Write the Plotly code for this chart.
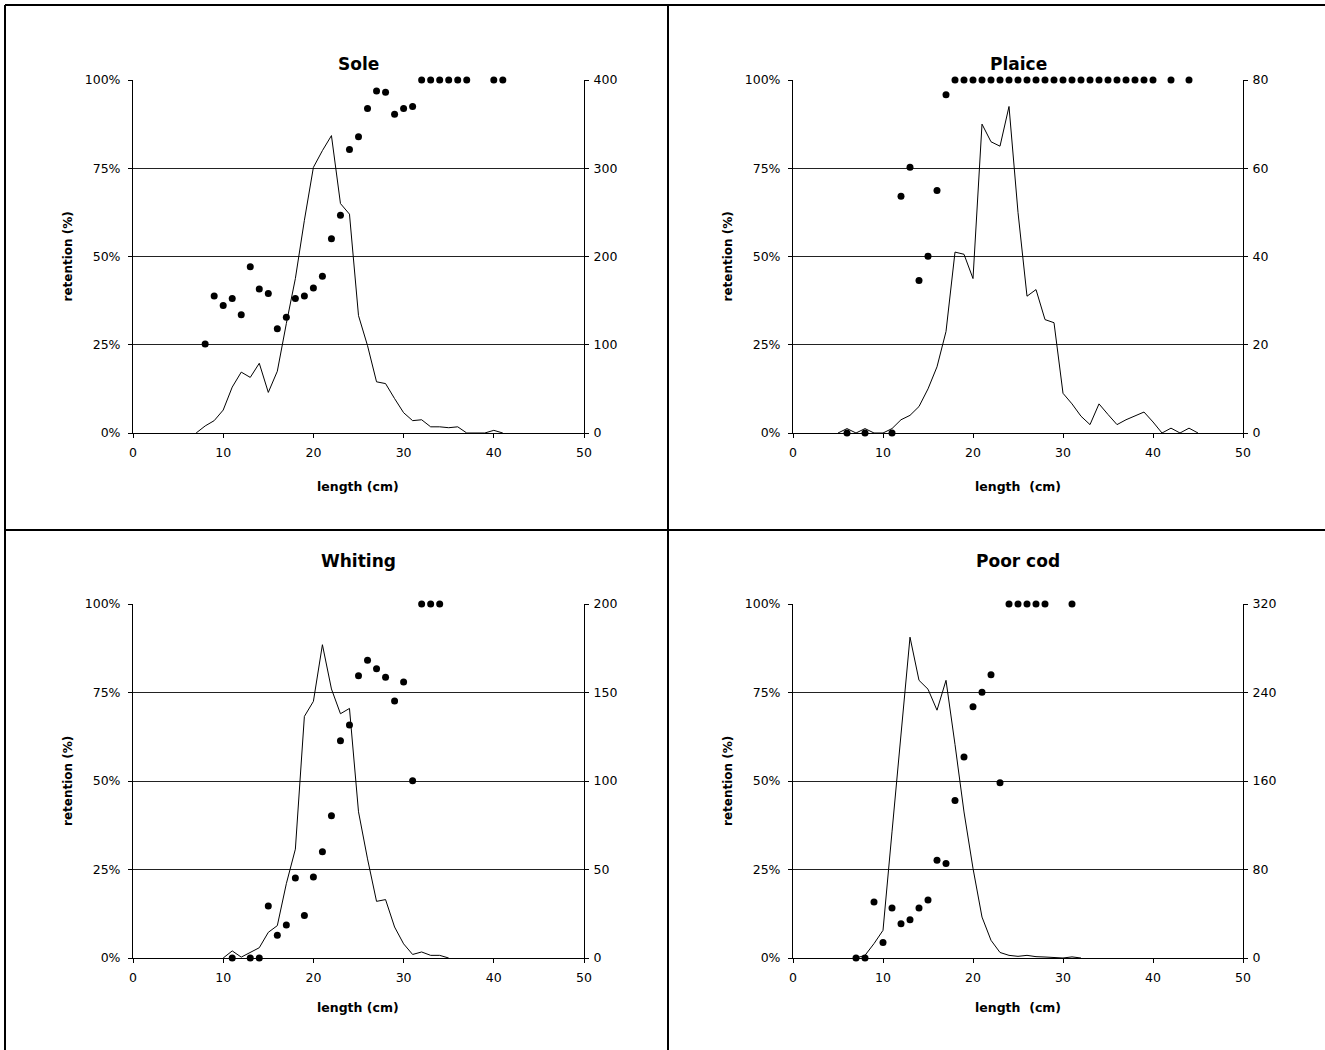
import plotly.graph_objects as go

# ---- Sole ----
sole_len = [7, 8, 9, 10, 11, 12, 13, 14, 15, 16, 17, 18, 19, 20, 21, 22, 23, 24,
            25, 26, 27, 28, 29, 30, 31, 32, 33, 34, 35, 36, 37, 38, 39, 40, 41]
sole_count = [0, 8, 14, 26, 52, 69, 63, 79, 46, 70, 124, 175, 241, 301, 320, 337, 260, 248,
              133, 99, 58, 56, 39, 23, 14, 15, 7, 7, 6, 7, 0, 0, 0, 3, 0]
sole_ret_len = [8, 9, 10, 11, 12, 13, 14, 15, 16, 17, 18, 19, 20, 21, 22, 23, 24, 25,
                26, 27, 28, 29, 30, 31, 32, 33, 34, 35, 36, 37, 40, 41]
sole_ret = [0.252, 0.388, 0.361, 0.381, 0.335, 0.471, 0.408, 0.395, 0.295, 0.328, 0.381,
            0.388, 0.411, 0.444, 0.550, 0.617, 0.803, 0.839, 0.919, 0.969, 0.965, 0.903,
            0.919, 0.925, 1, 1, 1, 1, 1, 1, 1, 1]

# ---- Plaice ----
plaice_len = [5, 6, 7, 8, 9, 10, 11, 12, 13, 14, 15, 16, 17, 18, 19, 20, 21, 22, 23, 24,
              25, 26, 27, 28, 29, 30, 31, 32, 33, 34, 35, 36, 37, 38, 39, 40, 41, 42, 43, 44, 45]
plaice_count = [0, 1, 0, 1, 0, 0, 1, 3, 4, 6, 10, 15, 23, 41, 40.5, 35, 70, 66, 65, 74,
                50, 31, 32.5, 25.7, 25, 9, 6.6, 3.8, 1.9, 6.6, 4.2, 1.9, 3, 3.8, 4.75, 2.5,
                0, 1.1, 0, 1.1, 0]
plaice_ret_len = [6, 8, 11, 12, 13, 14, 15, 16, 17, 18, 19, 20, 21, 22, 23, 24, 25, 26, 27,
                  28, 29, 30, 31, 32, 33, 34, 35, 36, 37, 38, 39, 40, 42, 44]
plaice_ret = [0, 0, 0, 0.671, 0.753, 0.432, 0.501, 0.687, 0.958, 1, 1, 1, 1, 1, 1, 1, 1, 1,
              1, 1, 1, 1, 1, 1, 1, 1, 1, 1, 1, 1, 1, 1, 1, 1]

# ---- Whiting ----
whiting_len = [10, 11, 12, 13, 14, 15, 16, 17, 18, 19, 20, 21, 22, 23, 24, 25, 26, 27, 28,
               29, 30, 31, 32, 33, 34, 35]
whiting_count = [0, 4, 0.5, 3, 5.8, 14.5, 18.3, 42, 61.5, 136.5, 145, 177, 152, 138, 141,
                 82.6, 56, 32, 33, 17.5, 8, 2, 3.4, 1.5, 1.5, 0]
whiting_ret_len = [11, 13, 14, 15, 16, 17, 18, 19, 20, 21, 22, 23, 24, 25, 26, 27, 28, 29,
                   30, 31, 32, 33, 34]
whiting_ret = [0, 0, 0, 0.147, 0.064, 0.093, 0.226, 0.120, 0.229, 0.300, 0.402, 0.614, 0.658,
               0.797, 0.841, 0.817, 0.793, 0.726, 0.780, 0.501, 1, 1, 1]

# ---- Poor cod ----
poorcod_len = [7, 8, 9, 10, 11, 12, 13, 14, 15, 16, 17, 18, 19, 20, 21, 22, 23, 24, 25, 26,
               27, 28, 29, 30, 31, 32]
poorcod_count = [0, 2.4, 13, 25, 114, 202, 290, 251, 243, 224, 251, 193, 132, 81, 37, 16, 5,
                 2.4, 1.5, 2.4, 1.2, 0.9, 0.5, 0, 1, 0]
poorcod_ret_len = [7, 8, 9, 10, 11, 12, 13, 14, 15, 16, 17, 18, 19, 20, 21, 22, 23, 24, 25,
                   26, 27, 28, 31]
poorcod_ret = [0, 0, 0.158, 0.044, 0.141, 0.097, 0.108, 0.141, 0.164, 0.276, 0.267, 0.445,
               0.568, 0.710, 0.751, 0.800, 0.495, 1, 1, 1, 1, 1, 1]

species = ["Sole", "Plaice", "Whiting", "Poor cod"]
x_titles = ["length (cm)", "length\u00a0 (cm)", "length (cm)", "length\u00a0 (cm)"]
y_title = "retention (%)"
count_max = [400, 80, 200, 320]
count_step = [100, 20, 50, 80]
x_ticks = [0, 10, 20, 30, 40, 50]

W, H = 1325, 1050
# plot-area boxes in pixels: left, right, top, bottom
boxes = [(133, 584, 80, 433), (793, 1243, 80, 433),
         (133, 584, 604, 958), (793, 1243, 604, 958)]
# vertical offsets (px) of the panel title above and the x title below each plot area
title_gap = [16, 16, 43, 43]
xlabel_gap = [53, 53, 49, 49]

series = [
    (sole_len, sole_count, sole_ret_len, sole_ret),
    (plaice_len, plaice_count, plaice_ret_len, plaice_ret),
    (whiting_len, whiting_count, whiting_ret_len, whiting_ret),
    (poorcod_len, poorcod_count, poorcod_ret_len, poorcod_ret),
]

TICK_FONT = dict(family="DejaVu Sans, Verdana, sans-serif", size=12.5, color="#000")
BOLD = "DejaVu Sans, Verdana, sans-serif"


def fx(p):
    return p / W


def fy(p):
    return 1 - p / H


fig = go.Figure()
layout = dict(
    width=W, height=H,
    margin=dict(l=0, r=0, t=0, b=0),
    paper_bgcolor="white", plot_bgcolor="white",
    showlegend=False, template="none",
    annotations=[], shapes=[],
)

for i in range(4):
    n = i + 1
    xname = "x" if n == 1 else f"x{n}"
    yc = 2 * n - 1          # counts axis (right side, carries the grid)
    yp = 2 * n              # retention axis (left side)
    ycname = "y" if yc == 1 else f"y{yc}"
    ypname = f"y{yp}"
    l, r, t, b = boxes[i]
    lens, counts, rlens, rets = series[i]

    layout["xaxis" if n == 1 else f"xaxis{n}"] = dict(
        domain=[fx(l), fx(r)], range=[0, 50], tickvals=x_ticks,
        anchor=ycname, showgrid=False, zeroline=False,
        showline=True, linecolor="#000", linewidth=1,
        ticks="outside", ticklen=4, tickcolor="#000", ticklabelstandoff=4,
        tickfont=TICK_FONT, automargin=False, fixedrange=True,
    )
    layout["yaxis" if yc == 1 else f"yaxis{yc}"] = dict(
        domain=[fy(b), fy(t)], range=[0, count_max[i]], dtick=count_step[i], tick0=0,
        anchor=xname, side="right",
        showgrid=True, gridcolor="#222", gridwidth=1, zeroline=False,
        showline=True, linecolor="#000", linewidth=1,
        ticks="outside", ticklen=4, tickcolor="#000", ticklabelstandoff=2,
        tickfont=TICK_FONT, automargin=False, fixedrange=True,
    )
    layout[f"yaxis{yp}"] = dict(
        overlaying=ycname, anchor=xname, side="left",
        range=[0, 1], dtick=0.25, tick0=0, tickformat=".0%",
        showgrid=False, zeroline=False,
        showline=True, linecolor="#000", linewidth=1,
        ticks="outside", ticklen=4, tickcolor="#000", ticklabelstandoff=5,
        tickfont=TICK_FONT, automargin=False, fixedrange=True,
    )

    # length distribution (numbers, right axis)
    fig.add_trace(go.Scatter(
        x=lens, y=counts, mode="lines", xaxis=xname, yaxis=ycname,
        line=dict(color="#000", width=1), cliponaxis=False, hoverinfo="skip",
    ))
    # retention per length class (left axis)
    fig.add_trace(go.Scatter(
        x=rlens, y=rets, mode="markers", xaxis=xname, yaxis=ypname,
        marker=dict(color="#000", size=7, line=dict(width=0)), cliponaxis=False,
    ))

    cx = (l + r) / 2
    layout["annotations"] += [
        dict(text=f"<b>{species[i]}</b>", x=fx(cx), y=fy(t - title_gap[i]), xref="paper",
             yref="paper", showarrow=False, xanchor="center", yanchor="middle",
             font=dict(family=BOLD, size=17, color="#000")),
        dict(text=f"<b>{x_titles[i]}</b>", x=fx(cx), y=fy(b + xlabel_gap[i]), xref="paper",
             yref="paper", showarrow=False, xanchor="center", yanchor="middle",
             font=dict(family=BOLD, size=12.5, color="#000")),
        dict(text=f"<b>{y_title}</b>", x=fx(l - 65), y=fy((t + b) / 2), xref="paper",
             yref="paper", showarrow=False, xanchor="center", yanchor="middle",
             textangle=-90, font=dict(family=BOLD, size=12, color="#000")),
    ]

# frame lines separating the four panels
frame = [((5, 5), (W, 5)), ((5, 5), (5, H)), ((668, 5), (668, H)), ((5, 530), (W, 530))]
for (x0, y0), (x1, y1) in frame:
    layout["shapes"].append(dict(
        type="line", xref="paper", yref="paper",
        x0=fx(x0), y0=fy(y0), x1=fx(x1), y1=fy(y1),
        line=dict(color="#000", width=2),
    ))

fig.update_layout(**layout)
fig.write_html("out.html")
